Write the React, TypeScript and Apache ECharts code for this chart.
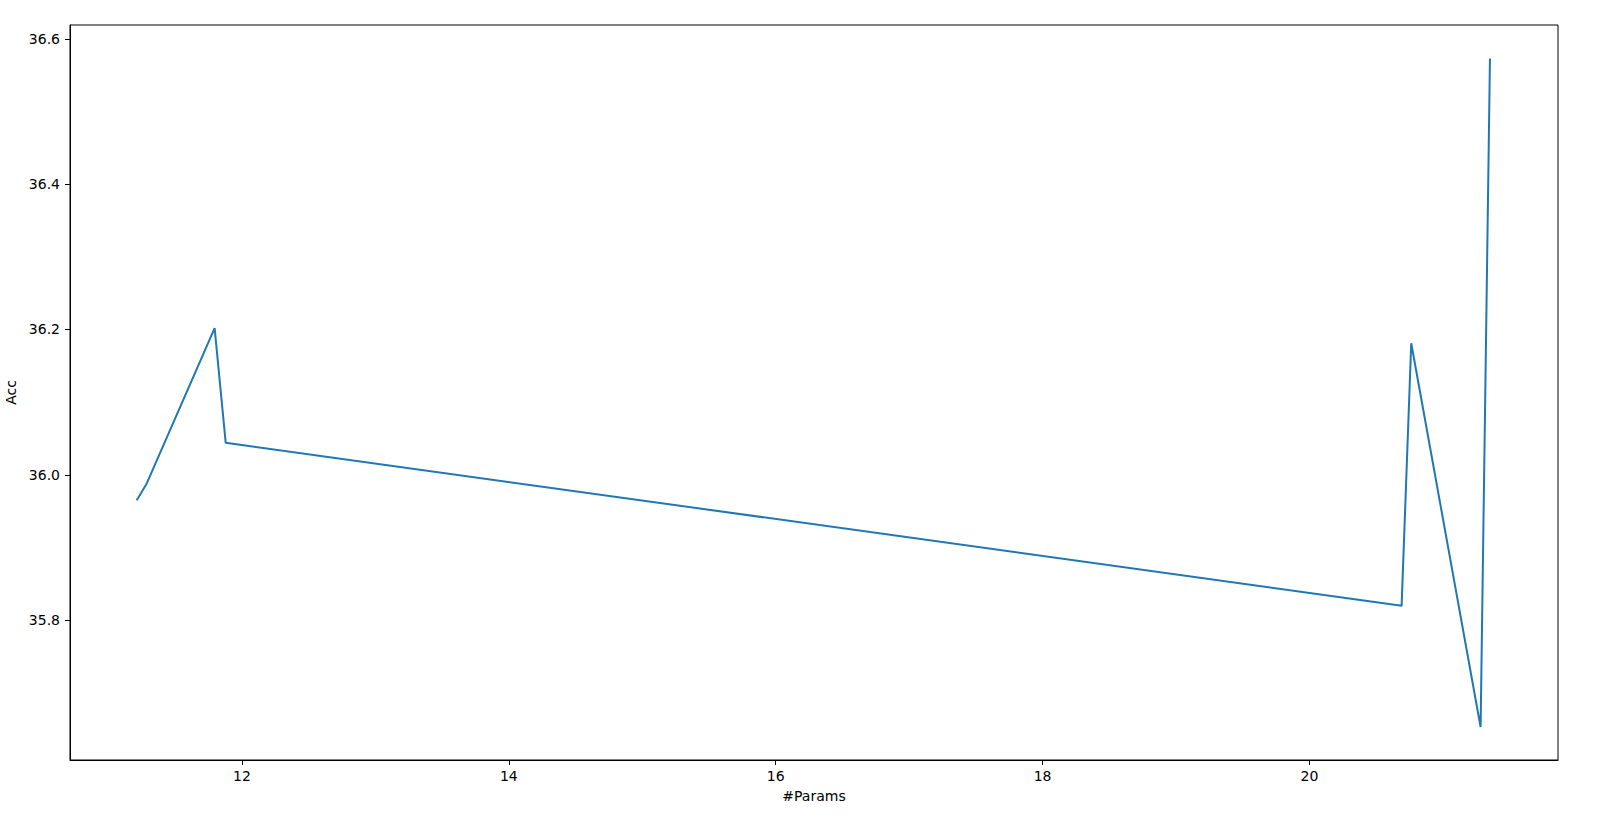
import React, { useEffect, useRef } from "react";
import * as echarts from "echarts";

const paramsX: number[] = [11.211, 11.283, 11.795, 11.878, 20.691, 20.763, 21.283, 21.353];
const accY: number[] = [35.965, 35.987, 36.202, 36.044, 35.82, 36.181, 35.653, 36.573];
const xTicks: number[] = [12, 14, 16, 18, 20];
const yTicks: number[] = [35.8, 36.0, 36.2, 36.4, 36.6];

export default function App() {
  const ref = useRef<HTMLDivElement>(null);
  useEffect(() => {
    if (!ref.current) return;
    const chart = echarts.init(ref.current, undefined, { renderer: "svg" });
    const font = "DejaVu Sans";
    chart.setOption({
      animation: false,
      backgroundColor: "#ffffff",
      textStyle: { fontFamily: font },
      grid: {
        left: 70,
        top: 25,
        right: 52,
        bottom: 64,
        containLabel: false,
        outerBoundsMode: "none",
        show: true,
        borderColor: "#000000",
        borderWidth: 1,
        backgroundColor: "transparent",
      },
      xAxis: {
        type: "value",
        min: 10.711,
        max: 21.863,
        name: "#Params",
        nameLocation: "middle",
        nameGap: 29,
        nameTextStyle: { color: "#000", fontSize: 14, fontFamily: font },
        axisLine: { show: true, lineStyle: { color: "#000", width: 1 } },
        axisTick: { show: true, length: 5, lineStyle: { color: "#000" }, customValues: xTicks },
        axisLabel: {
          color: "#000",
          fontSize: 14,
          fontFamily: font,
          margin: 9,
          customValues: xTicks,
          formatter: (v: number) => String(Math.round(v)),
        },
        splitLine: { show: false },
      },
      yAxis: {
        type: "value",
        min: 35.6076,
        max: 36.619,
        name: "Acc",
        nameLocation: "middle",
        nameGap: 44,
        nameRotate: 90,
        nameTextStyle: { color: "#000", fontSize: 14, fontFamily: font },
        axisLine: { show: true, lineStyle: { color: "#000", width: 1 } },
        axisTick: { show: true, length: 5, lineStyle: { color: "#000" }, customValues: yTicks },
        axisLabel: {
          color: "#000",
          fontSize: 14,
          fontFamily: font,
          margin: 10,
          customValues: yTicks,
          formatter: (v: number) => v.toFixed(1),
        },
        splitLine: { show: false },
      },
      series: [
        {
          type: "line",
          data: paramsX.map((x, i) => [x, accY[i]]),
          showSymbol: false,
          symbol: "none",
          lineStyle: { color: "#1f77b4", width: 2 },
          itemStyle: { color: "#1f77b4" },
        },
      ],
    });
    return () => chart.dispose();
  }, []);
  return (
    <div
      ref={ref}
      style={{ position: "fixed", left: 0, top: 0, width: 1610, height: 824 }}
    />
  );
}
